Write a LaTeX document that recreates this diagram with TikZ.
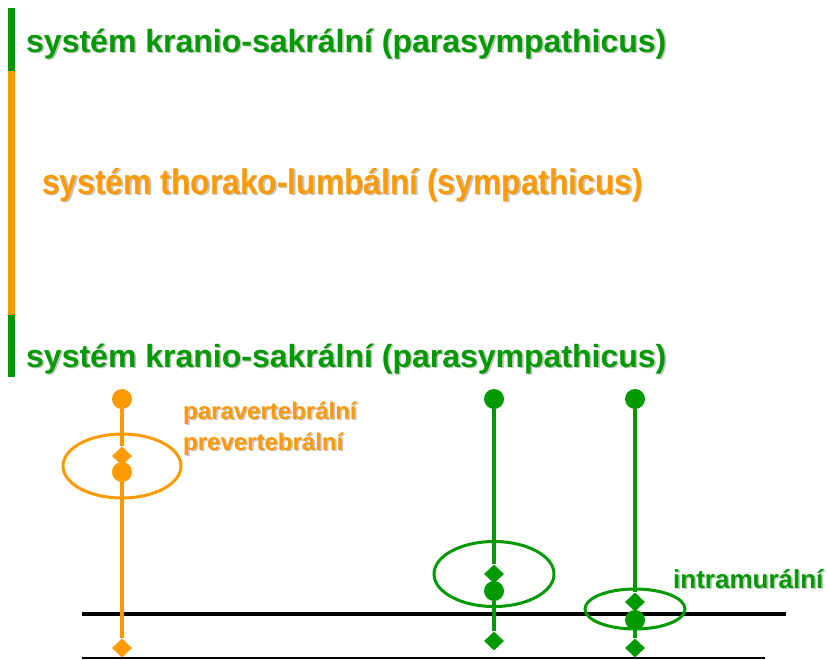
\documentclass[tikz,border=0pt]{standalone}
\usepackage{fontspec}
\setmainfont{Liberation Sans}
\usetikzlibrary{shapes.geometric,calc}
\definecolor{pgreen}{HTML}{009900}
\definecolor{sorange}{HTML}{FF9900}
\definecolor{shadowgray}{HTML}{C4C4C4}
\tikzset{
  x=1pt, y=-1pt,
  heading/.style={anchor=base west, inner sep=0pt, font=\bfseries\fontsize{32}{36}\selectfont},
  tallheading/.style={anchor=base west, inner sep=0pt, font=\bfseries\fontsize{31.8}{36}\selectfont},
  label/.style={anchor=base west, inner sep=0pt, font=\bfseries\fontsize{24}{28}\selectfont},
  biglabel/.style={anchor=base west, inner sep=0pt, font=\bfseries\fontsize{26}{28}\selectfont},
  soma/.style={circle, fill=#1, minimum size=20pt, inner sep=0pt},
  ending/.style={diamond, fill=#1, minimum width=20pt, minimum height=19pt, inner sep=0pt},
  ganglion/.style={ellipse, draw=#1, line width=3pt, inner sep=0pt},
  fibre/.style={draw=#1, line width=4pt},
}
% text with a soft grey drop shadow
\newcommand{\shadowtext}[5]{%
  \node[#1, text=shadowgray] at ($(#3)+(1.6,1.6)$) {#5};
  \node[#1, text=#2] (#4) at (#3) {#5};
}
% vertically stretched lettering
\newcommand{\tallword}[1]{\scalebox{1}[1.12]{#1}}
\begin{document}
\begin{tikzpicture}
\useasboundingbox (0,0) rectangle (827,659);

% side bars
\fill[pgreen] (8,8) rectangle (15,71);
\fill[sorange] (8,71) rectangle (15,315);
\fill[pgreen] (8,315) rectangle (15,377);

% headings
\shadowtext{heading}{pgreen}{26,52}{h1}{systém kranio-sakrální (parasympathicus)}
\shadowtext{tallheading}{sorange}{42,194}{h2}{\tallword{systém thorako-lumbální (sympathicus)}}
\shadowtext{heading}{pgreen}{26,367}{h3}{systém kranio-sakrální (parasympathicus)}

% tissue boundaries
\coordinate (w1l) at (82,614);
\coordinate (w1r) at (786,614);
\coordinate (w2l) at (82,658);
\coordinate (w2r) at (765,658);
\draw[line width=4pt] (w1l) -- (w1r);
\draw[line width=2pt] (w2l) -- (w2r);

% sympathetic neuron chain
\node[ganglion=sorange, minimum width=118pt, minimum height=64pt] (ga) at (122,466) {};
\node[soma=sorange] (a1) at (122,399) {};
\node[ending=sorange] (a2) at (122,456) {};
\node[soma=sorange] (a3) at (122,472) {};
\node[ending=sorange] (a4) at (122,648) {};
\draw[fibre=sorange] (a1) -- (a2);
\draw[fibre=sorange] (a3) -- (a4);

% parasympathetic chain, ganglion outside the wall
\node[ganglion=pgreen, minimum width=120pt, minimum height=65pt] (gb) at (494,574) {};
\node[soma=pgreen] (b1) at (494,399) {};
\node[ending=pgreen] (b2) at (494,574) {};
\node[soma=pgreen] (b3) at (494,591) {};
\node[ending=pgreen] (b4) at (494,641) {};
\draw[fibre=pgreen] (b1) -- (b2);
\draw[fibre=pgreen] (b3) -- (b4);

% parasympathetic chain, intramural ganglion
\node[ganglion=pgreen, minimum width=100pt, minimum height=40pt] (gc) at (635,609) {};
\node[soma=pgreen] (c1) at (635,399) {};
\node[ending=pgreen] (c2) at (635,602) {};
\node[soma=pgreen] (c3) at (635,620) {};
\node[ending=pgreen] (c4) at (635,648) {};
\draw[fibre=pgreen] (c1) -- (c2);
\draw[fibre=pgreen] (c3) -- (c4);

% ganglion labels
\shadowtext{label}{sorange}{183,419}{l1}{paravertebrální}
\shadowtext{label}{sorange}{183,450}{l2}{prevertebrální}
\shadowtext{biglabel}{pgreen}{673,588}{l3}{intramurální}
\end{tikzpicture}
\end{document}
